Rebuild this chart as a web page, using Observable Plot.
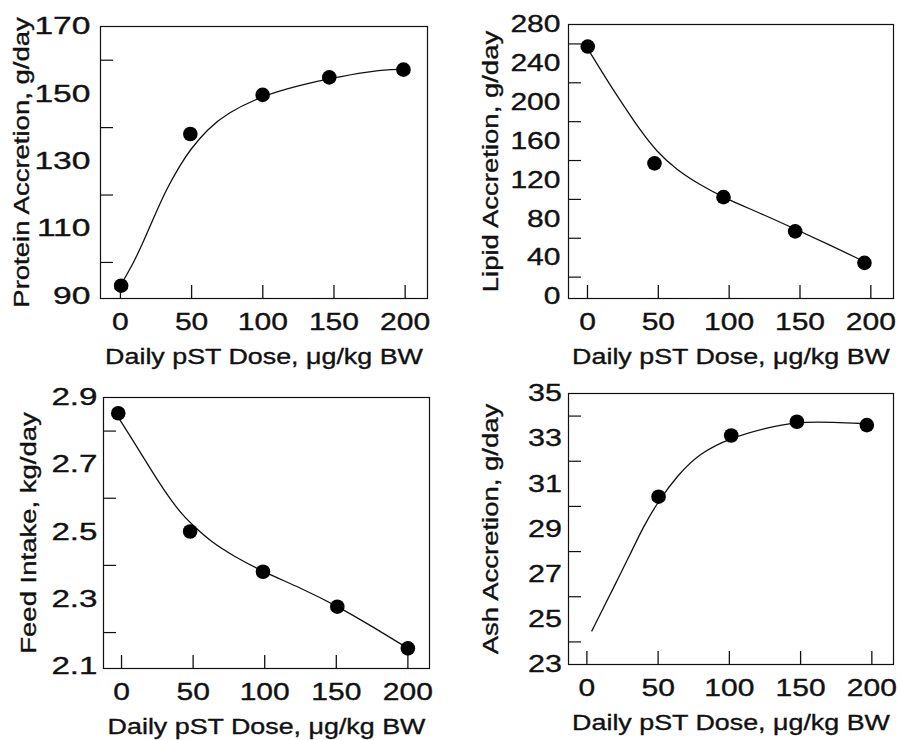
<!DOCTYPE html>
<html><head><meta charset="utf-8">
<script src="https://cdn.jsdelivr.net/npm/d3@7"></script>
<script src="https://cdn.jsdelivr.net/npm/@observablehq/plot@0.6"></script>
<style>
html,body{margin:0;padding:0;background:#fff;}
#wrap{position:relative;width:900px;height:740px;overflow:hidden;}
.panel{position:absolute;}
svg text{font-family:"Liberation Sans",Arial,Helvetica,sans-serif;fill:#111;stroke:#111;stroke-width:0.35px;}
g[aria-label="x-axis tick label"], g[aria-label="y-axis tick label"]{font-size:24px;}
g[aria-label="x-axis label"], g[aria-label="y-axis label"]{font-size:22px;}
</style></head><body><div id="wrap"></div>
<script>
// ---- data ----
const xTicks = [0, 50, 100, 150, 200];
const xLabel = "Daily pST Dose, μg/kg BW";

// Protein accretion
const proteinDose = [0.5, 49.1, 99.9, 146.7, 198.8];
const proteinValue = [93.1, 138.1, 149.7, 154.9, 157.2];
const proteinCurveDose = [0, 9.4, 16.4, 23.4, 32.7, 42.1, 49.1, 60.8, 74.9, 99.4, 126.3, 149.7, 173.1, 191.8, 198.8];
const proteinCurveValue = [93.1, 100, 106.4, 113.3, 122.1, 129, 133.5, 139.4, 144.3, 149.4, 152.6, 154.8, 156.6, 157.3, 157.3];
const proteinLabels = [90, 110, 130, 150, 170];
const proteinMinor = [100, 120, 140, 160];

// Lipid accretion
const lipidDose = [0.2, 47.3, 96, 146.6, 195.5];
const lipidValue = [257.3, 137.1, 102.3, 67.1, 34.7];
const lipidCurveDose = [0.2, 8.9, 18.4, 27.8, 37.2, 48.9, 63.1, 79.5, 96, 121.9, 146.6, 171.3, 194.8];
const lipidCurveValue = [254.9, 234.4, 212.2, 191.7, 171.2, 149.0, 130.3, 114.9, 101.9, 85.8, 69.5, 52.8, 36.4];
const lipidLabels = [0, 40, 80, 120, 160, 200, 240, 280];
const lipidMinor = [20, 60, 100, 140, 180, 220, 260];

// Feed intake
const feedDose = [-2.3, 47.9, 98.8, 150.7, 200];
const feedValue = [2.853, 2.501, 2.381, 2.277, 2.153];
const feedCurveDose = [-2.3, 6.5, 15.8, 25.1, 34.4, 42.6, 50.7, 62.3, 78.6, 98.8, 125.1, 150.7, 176.3, 200];
const feedCurveValue = [2.841, 2.782, 2.718, 2.654, 2.595, 2.550, 2.516, 2.471, 2.427, 2.381, 2.333, 2.279, 2.215, 2.153];
const feedLabels = [2.1, 2.3, 2.5, 2.7, 2.9];
const feedMinor = [2.2, 2.4, 2.6, 2.8];

// Ash accretion
const ashDose = [50.3, 101.3, 147.4, 196.5];
const ashValue = [30.43, 33.14, 33.75, 33.6];
const ashCurveDose = [3.5, 11.7, 21.1, 30.4, 39.8, 50.3, 63.2, 79.5, 101.3, 126.3, 147.4, 173.1, 196.5];
const ashCurveValue = [24.49, 25.52, 26.70, 27.88, 29.13, 30.24, 31.35, 32.38, 33.04, 33.48, 33.75, 33.73, 33.66];
const ashLabels = [23, 25, 27, 29, 31, 33, 35];
const ashMinor = [24, 26, 28, 30, 32, 34];

// ---- build ----
const zip = (xs, ys) => xs.map((x, i) => ({dose: x, value: ys[i]}));
const W = 450, H = 370, TICK = 13;

const panels = [
  {left: 0, top: 0, m: [26, 23, 72, 100], xd: [-14, 215.7], yd: [89.3, 170],
   labels: proteinLabels, minor: proteinMinor, ylabel: "Protein Accretion, g/day", lo: 86.7, pad: 10, ys: 1.4,
   pts: zip(proteinDose, proteinValue), curve: zip(proteinCurveDose, proteinCurveValue), fmt: d3.format("d")},
  {left: 450, top: 0, m: [24, 7, 72, 118], xd: [-13.4, 216], yd: [-2, 280],
   labels: lipidLabels, minor: lipidMinor, ylabel: "Lipid Accretion, g/day", lo: 86.6, pad: 8, ys: 1.25,
   pts: zip(lipidDose, lipidValue), curve: zip(lipidCurveDose, lipidCurveValue), fmt: d3.format("d")},
  {left: 0, top: 370, m: [27, 21, 72, 103], xd: [-12.6, 215.1], yd: [2.093, 2.9],
   labels: feedLabels, minor: feedMinor, ylabel: "Feed Intake, kg/day", lo: 82.7, pad: 6, ys: 1.38,
   pts: zip(feedDose, feedValue), curve: zip(feedCurveDose, feedCurveValue), fmt: d3.format(".1f")},
  {left: 450, top: 370, m: [23, 7, 76, 118], xd: [-12.9, 215.2], yd: [23, 35],
   labels: ashLabels, minor: ashMinor, ylabel: "Ash Accretion, g/day", lo: 86.6, pad: 6.5, ys: 1.27,
   pts: zip(ashDose, ashValue), curve: zip(ashCurveDose, ashCurveValue), fmt: d3.format("d")}
];

const wrap = document.getElementById("wrap");
for (const p of panels) {
  const [mt, mr, mb, ml] = p.m;
  const fw = W - ml - mr, fh = H - mt - mb;
  const chart = Plot.plot({
    width: W, height: H,
    marginTop: mt, marginRight: mr, marginBottom: mb, marginLeft: ml,
    x: {domain: p.xd, axis: null},
    y: {domain: p.yd, axis: null},
    style: {background: "transparent", color: "#111"},
    marks: [
      Plot.frame({stroke: "#111", strokeWidth: 1.2}),
      // inward tick marks
      Plot.tickX(xTicks, {x: d => d, insetTop: fh - TICK, stroke: "#111", strokeWidth: 1.3}),
      Plot.tickY(p.minor, {y: d => d, insetRight: fw - TICK, stroke: "#111", strokeWidth: 1.2}),
      Plot.axisY(p.labels, {tickSize: 0, tickPadding: p.pad, tickFormat: p.fmt,
        label: p.ylabel, labelAnchor: "center", labelOffset: p.lo, labelArrow: "none"}),
      Plot.axisX(xTicks, {tickSize: 0, tickPadding: 14, label: xLabel, labelAnchor: "center", labelOffset: 65, labelArrow: "none"}),
      Plot.line(p.curve, {x: "dose", y: "value", curve: "basis", stroke: "#111", strokeWidth: 1.3}),
      Plot.dot(p.pts, {x: "dose", y: "value", r: 7.3, fill: "#000", stroke: "none"})
    ]
  });
  const div = document.createElement("div");
  div.className = "panel";
  div.style.left = p.left + "px";
  div.style.top = p.top + "px";
  div.appendChild(chart);
  wrap.appendChild(div);
  const stretch = (sel, f) => {
    for (const t of chart.querySelectorAll(sel)) {
      const len = t.getComputedTextLength();
      if (len > 0) {
        t.setAttribute("textLength", (len * f).toFixed(1));
        t.setAttribute("lengthAdjust", "spacingAndGlyphs");
      }
    }
  };
  stretch('g[aria-label="y-axis tick label"] text', p.ys);
  stretch('g[aria-label="x-axis tick label"] text', 1.25);
  stretch('g[aria-label="x-axis label"] text', 1.22);
  stretch('g[aria-label="y-axis label"] text', 1.25);
}
</script></body></html>
